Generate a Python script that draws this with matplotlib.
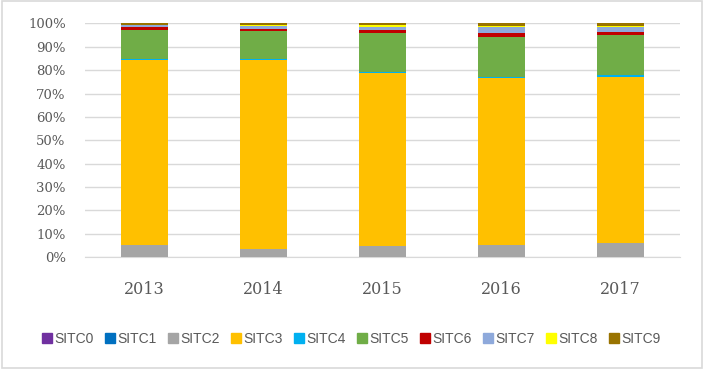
import numpy as np
import matplotlib
matplotlib.use("Agg")
import matplotlib.pyplot as plt
from matplotlib.lines import Line2D
from matplotlib.patches import Rectangle

years = ["2013", "2014", "2015", "2016", "2017"]
groups = ["SITC0", "SITC1", "SITC2", "SITC3", "SITC4",
          "SITC5", "SITC6", "SITC7", "SITC8", "SITC9"]
colors = ["#7030A0", "#0070C0", "#A5A5A5", "#FFC000", "#00B0F0",
          "#70AD47", "#C00000", "#8EA9DB", "#FFFF00", "#997300"]

# share of each group per year, %
sitc0 = [0.1, 0.1, 0.1, 0.1, 0.1]
sitc1 = [0.1, 0.1, 0.1, 0.1, 0.1]
sitc2 = [4.8, 3.4, 4.3, 5.1, 5.6]
sitc3 = [79.4, 80.6, 74.4, 71.3, 71.1]
sitc4 = [0.5, 0.6, 0.4, 0.6, 0.9]
sitc5 = [12.2, 12.1, 16.4, 17.2, 17.2]
sitc6 = [1.3, 0.8, 1.3, 1.7, 1.2]
sitc7 = [0.9, 1.3, 1.6, 2.2, 2.1]
sitc8 = [0.1, 0.2, 0.6, 0.8, 0.8]
sitc9 = [0.6, 0.8, 0.8, 0.9, 0.9]

series = [sitc0, sitc1, sitc2, sitc3, sitc4, sitc5, sitc6, sitc7, sitc8, sitc9]

fig = plt.figure(figsize=(7.04, 3.69), dpi=100)
ax = fig.add_axes([0.121, 0.3035, 0.845, 0.633])

x = np.arange(len(years))
bottom = np.zeros(len(years))
for name, vals, c in zip(groups, series, colors):
    vals = np.array(vals)
    ax.bar(x, vals, 0.395, bottom=bottom, color=c, zorder=3)
    bottom += vals

ax.set_xlim(-0.5, len(years) - 0.5)
ax.set_ylim(0, 100)
ax.set_yticks(np.arange(0, 101, 10))
ax.set_yticklabels([f"{v}%" for v in range(0, 101, 10)],
                   family="DejaVu Serif", fontsize=9.5, color="#595959")
ax.set_xticks(x)
ax.set_xticklabels(years, family="DejaVu Serif", fontsize=11.5, color="#595959")
ax.tick_params(axis="both", length=0)
ax.tick_params(axis="x", pad=17)
ax.tick_params(axis="y", pad=14)
ax.grid(axis="y", color="#D9D9D9", lw=1, zorder=0)
for s in ["top", "right", "left"]:
    ax.spines[s].set_visible(False)
ax.spines["bottom"].set_color("#D9D9D9")

handles = [Line2D([], [], ls="none", marker="s", markersize=6.5,
                  markerfacecolor=c, markeredgecolor=c) for c in colors]
fig.legend(handles, groups, loc="center", bbox_to_anchor=(0.5, 0.081),
           ncol=10, frameon=False, handlelength=0.5, handletextpad=0.25,
           columnspacing=0.95,
           prop={"family": "Liberation Sans", "size": 10},
           labelcolor="#595959")

fig.patches.append(Rectangle((0.003, 0.003), 0.994, 0.994, transform=fig.transFigure,
                             fill=False, edgecolor="#D9D9D9", lw=1.2))

fig.savefig("out.png", dpi=100)
